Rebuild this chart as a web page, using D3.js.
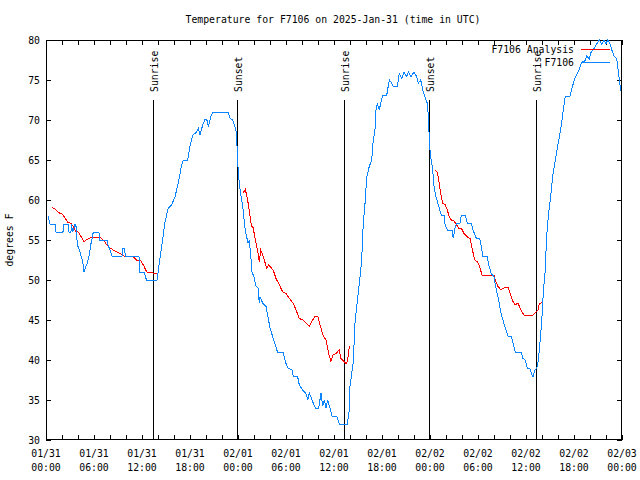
<!DOCTYPE html>
<html><head><meta charset="utf-8">
<script src="https://cdn.jsdelivr.net/npm/d3@7"></script>
<style>body{margin:0;background:#fff}svg{display:block}text{font-family:"DejaVu Sans Mono","Liberation Mono",monospace;font-size:9.8px;fill:#000}</style>
</head><body><svg id="c" width="640" height="480"></svg>
<script>
// hours since 2025-01-31 00:00 UTC
const obsHour = [0.25,0.5,1.12,1.25,2.12,2.25,2.75,2.88,3.12,3.19,3.31,3.5,3.62,3.75,3.84,3.91,4.09,4.25,4.41,4.59,4.75,4.91,5.09,5.25,5.41,5.59,5.75,5.91,6.62,6.69,7.66,7.75,8.0,8.25,9.5,9.59,9.75,9.96,11.62,11.71,12.25,12.56,13.88,14.25,14.66,14.88,15.29,15.71,16.12,16.54,16.96,17.16,17.71,18.0,18.34,18.84,19.04,19.25,19.59,19.88,20.09,20.29,20.59,20.84,22.79,23.0,23.34,23.62,23.84,23.91,24.16,24.34,24.59,24.84,25.0,25.25,25.41,25.59,25.75,26.0,26.25,26.5,26.66,26.75,27.09,27.5,27.75,28.0,28.34,28.66,28.96,29.66,29.91,30.21,30.75,30.91,31.46,31.66,32.09,32.5,32.71,32.91,33.25,33.66,34.09,34.38,34.59,34.79,35.0,35.21,35.5,35.75,36.34,36.66,37.66,37.91,38.0,38.21,38.41,38.62,38.84,39.25,39.46,39.66,39.88,40.09,40.41,40.71,40.91,41.12,41.25,41.41,41.66,41.84,42.09,42.59,42.91,43.21,43.41,43.91,44.16,44.46,44.75,45.09,45.29,45.59,46.0,46.34,46.54,46.84,47.09,47.38,47.66,47.84,47.91,48.09,48.34,48.5,48.75,49.09,49.41,49.75,49.84,50.16,50.75,50.91,51.16,51.41,51.75,51.91,52.41,52.66,53.16,53.38,53.79,54.21,54.41,54.62,55.16,55.34,55.66,56.0,56.29,56.59,56.84,57.12,57.41,57.75,58.16,58.38,58.66,59.41,59.62,59.91,60.16,60.46,60.75,60.88,61.09,61.34,61.54,61.75,61.96,62.16,62.38,62.59,62.79,63.09,63.34,63.62,64.04,64.34,64.66,64.91,65.5,65.71,66.0,66.25,66.66,66.96,67.38,67.59,67.91,68.09,68.41,68.84,69.16,69.46,69.75,70.0,70.21,70.5,70.71,71.0,71.25,71.41,71.66,71.84];
const obsTemp = [58,57,57,56,56,57,57,56,56,57,56,56.5,57,56.7,55.6,54.4,54,53.5,52.9,52.3,51,51.5,51.9,52.5,53.1,54.4,55.1,56,56,55,55,54.4,53.75,53,53,54,54,53,53,51,51,50,50,52.75,55.6,57.3,59,59.4,60.4,62.1,64.4,65,65,66.7,68.1,68.5,69,68.1,69.4,70.1,70.1,69.2,70.4,71,71,70.2,70,69.2,68.3,65.4,62.1,60.75,59.2,56.7,55.8,54.6,55,53.1,51,50.4,49.2,49,47.1,47.9,47.1,46.7,45.4,44,42.9,41.9,40.9,40.9,39.8,39,38.75,37.9,37.9,36.9,36.25,35.8,35,35.9,35,34,34,35.9,34.2,35,34,35,34,33,33,32,32,33.75,36.7,38.3,39.8,44.6,46.7,50.4,52.5,57.1,59.6,62.9,64.2,65,67.5,68.75,71.25,72.1,71.25,72.1,73.1,73.1,75,74.6,74.2,74.2,75.8,75.2,76,75.4,76,75.4,76,75.4,74.6,75,73.75,72.9,72.1,70,67.1,65.4,63.75,61.7,60.4,59.2,58.1,58.1,57.1,56.25,56.25,55.2,56.7,57.1,57.1,58.1,58.1,57.1,57.1,56.25,55.2,55.2,54.2,52.9,52.9,51.9,50.8,50.4,48.75,47.5,46,45,44,43,43,42.1,41,41,40.2,40,39,39,38.1,37.9,38.75,39,39.9,42.2,44.7,48.4,50.9,55.5,58,60.5,63,64.7,67.2,68.8,71.3,73,73,73.8,74.9,75.5,76.3,77.2,77.4,78,77.6,78.4,78.8,79.5,80,79.5,80,79.5,80,79.5,78.8,78,77.8,77.2,75.1,73.6];
// analysis series; null marks a gap
const anaHour = [0.75,1.21,1.75,2.04,2.34,2.75,3.09,3.41,3.71,4.04,4.34,4.75,5.16,5.59,6.84,7.25,7.59,8.0,8.5,9.12,9.75,10.59,11.0,11.41,11.84,12.16,12.59,13.21,13.91,null,24.66,24.91,25.09,25.34,25.59,25.75,25.91,26.09,26.34,26.59,26.66,26.84,27.0,27.34,27.59,27.84,28.09,28.41,28.75,29.16,29.59,30.0,30.41,30.91,31.25,31.66,32.09,32.5,32.91,33.34,33.66,34.0,34.25,34.66,35.0,35.34,35.62,35.84,36.25,36.66,36.84,37.25,37.59,37.79,37.91,null,48.66,48.91,49.09,49.34,49.59,49.91,50.16,50.41,50.66,51.0,51.25,51.59,51.91,52.25,52.66,53.0,53.25,53.59,53.91,54.21,54.5,56.0,56.16,56.5,56.84,57.25,57.75,58.09,58.38,58.66,59.0,59.34,59.75,60.88,61.16,61.5,61.66,61.96];
const anaTemp = [59.1,58.8,58.3,58.25,57.8,57.2,57.1,56.7,56.1,56,55.5,54.8,55.1,55.3,55.3,54.9,54.4,54,53.7,53.4,53,53,52.8,52.4,52.4,51.9,51,50.9,50.8,null,60.9,61.3,60.6,59.2,57.3,56.7,56.5,55.4,54.2,52.9,52.2,53.75,53.4,52.3,51.5,51.9,51.6,51.2,50.2,49.4,48.5,48.3,47.7,47.1,46.25,45.2,45,44.6,44.25,45,45.5,45.4,44.4,43,42.5,40.8,39.8,40.6,40.8,41.3,40.2,39.8,39.5,40.6,41.7,null,63.75,63.5,62.5,60.8,59.6,59.4,58.75,57.9,57.5,57.4,57,56.5,56.5,55.8,55.4,55.2,54,52.5,52.3,51.7,50.6,50.6,50,49.2,48.8,49,49.1,48.1,47.3,46.9,47.1,46.3,45.6,45.6,45.9,46.25,47,47.2];
const sunHour = [13.4,23.9,37.3,47.9,61.3];
const sunLabel = ["Sunrise","Sunset","Sunrise","Sunset","Sunrise"];
const yTicks = [30,35,40,45,50,55,60,65,70,75,80];
const xTickLabels = [["01/31","00:00"],["01/31","06:00"],["01/31","12:00"],["01/31","18:00"],["02/01","00:00"],["02/01","06:00"],["02/01","12:00"],["02/01","18:00"],["02/02","00:00"],["02/02","06:00"],["02/02","12:00"],["02/02","18:00"],["02/03","00:00"]];
const seriesNames = ["F7106 Analysis","F7106"];
const seriesColors = ["#ff0000","#0a84ff"];

const t0 = Date.UTC(2025,0,31);
const toDate = h => new Date(t0 + h*3600e3);
const L=46,R=622,T=40,B=440;
const svg = d3.select("#c");
const x = d3.scaleUtc().domain([toDate(0),toDate(72)]).range([L,R]);
const y = d3.scaleLinear().domain([30,80]).range([B,T]);

// title
svg.append("text").attr("x",333).attr("y",23).attr("text-anchor","middle").text("Temperature for F7106 on 2025-Jan-31 (time in UTC)");
svg.append("text").attr("transform","translate(13,240) rotate(-90)").attr("text-anchor","middle").text("degrees F");

// axes with inward ticks
const minor = d3.range(0,73,2).map(toDate);
const major = d3.range(0,73,6);
const tidy = g=>{g.select(".domain").remove();g.selectAll("line").attr("stroke","#000").attr("shape-rendering","crispEdges");};
svg.append("g").attr("transform",`translate(0,${B})`).call(d3.axisBottom(x).tickValues(minor).tickSize(-5).tickFormat("")).call(tidy);
svg.append("g").attr("transform",`translate(0,${T})`).call(d3.axisTop(x).tickValues(minor).tickSize(-5).tickFormat("")).call(tidy);
svg.append("g").attr("transform",`translate(${L},0)`).call(d3.axisLeft(y).tickValues(yTicks).tickSize(-5).tickFormat("")).call(tidy);
svg.append("g").attr("transform",`translate(${R},0)`).call(d3.axisRight(y).tickValues(yTicks).tickSize(-5).tickFormat("")).call(tidy);

// y labels
svg.selectAll("text.yl").data(yTicks).join("text").attr("class","yl")
  .attr("x",40).attr("y",d=>y(d)+4).attr("text-anchor","end").text(d=>d);
// x labels
const xl = svg.selectAll("g.xl").data(major).join("g").attr("class","xl")
  .attr("transform",d=>`translate(${x(toDate(d))},0)`);
xl.append("text").attr("y",457).attr("text-anchor","middle").text((d,i)=>xTickLabels[i][0]);
xl.append("text").attr("y",471).attr("text-anchor","middle").text((d,i)=>xTickLabels[i][1]);

// frame
svg.append("rect").attr("x",L+0.5).attr("y",T+0.5).attr("width",R-L-1).attr("height",B-T-1)
  .attr("fill","none").attr("stroke","#000").attr("shape-rendering","crispEdges");

// sun events
const se = svg.selectAll("g.sun").data(sunHour).join("g").attr("class","sun")
  .attr("transform",d=>`translate(${Math.round(x(toDate(d)))+0.5},0)`);
se.append("line").attr("y1",100).attr("y2",B).attr("stroke","#000").attr("shape-rendering","crispEdges");
se.append("text").attr("transform","translate(4,92) rotate(-90)").attr("text-anchor","start")
  .text((d,i)=>sunLabel[i]);

// series
const line = d3.line().defined(d=>d[0]!=null&&d[1]!=null).x(d=>x(toDate(d[0]))).y(d=>y(d[1]));
const ana = anaHour.map((h,i)=>[h,anaTemp[i]]);
const obs = obsHour.map((h,i)=>[h,obsTemp[i]]);
svg.append("path").datum(ana).attr("d",line).attr("fill","none").attr("stroke",seriesColors[0]).attr("stroke-width",1).attr("shape-rendering","crispEdges");
svg.append("path").datum(obs).attr("d",line).attr("fill","none").attr("stroke",seriesColors[1]).attr("stroke-width",1).attr("shape-rendering","crispEdges");

// legend
seriesNames.forEach((n,i)=>{
  const yy = 49.5 + i*13;
  svg.append("text").attr("x",574).attr("y",yy+3.5).attr("text-anchor","end").text(n);
  svg.append("line").attr("x1",581).attr("x2",610).attr("y1",yy).attr("y2",yy).attr("stroke",seriesColors[i]).attr("stroke-width",1).attr("shape-rendering","crispEdges");
});
</script></body></html>
